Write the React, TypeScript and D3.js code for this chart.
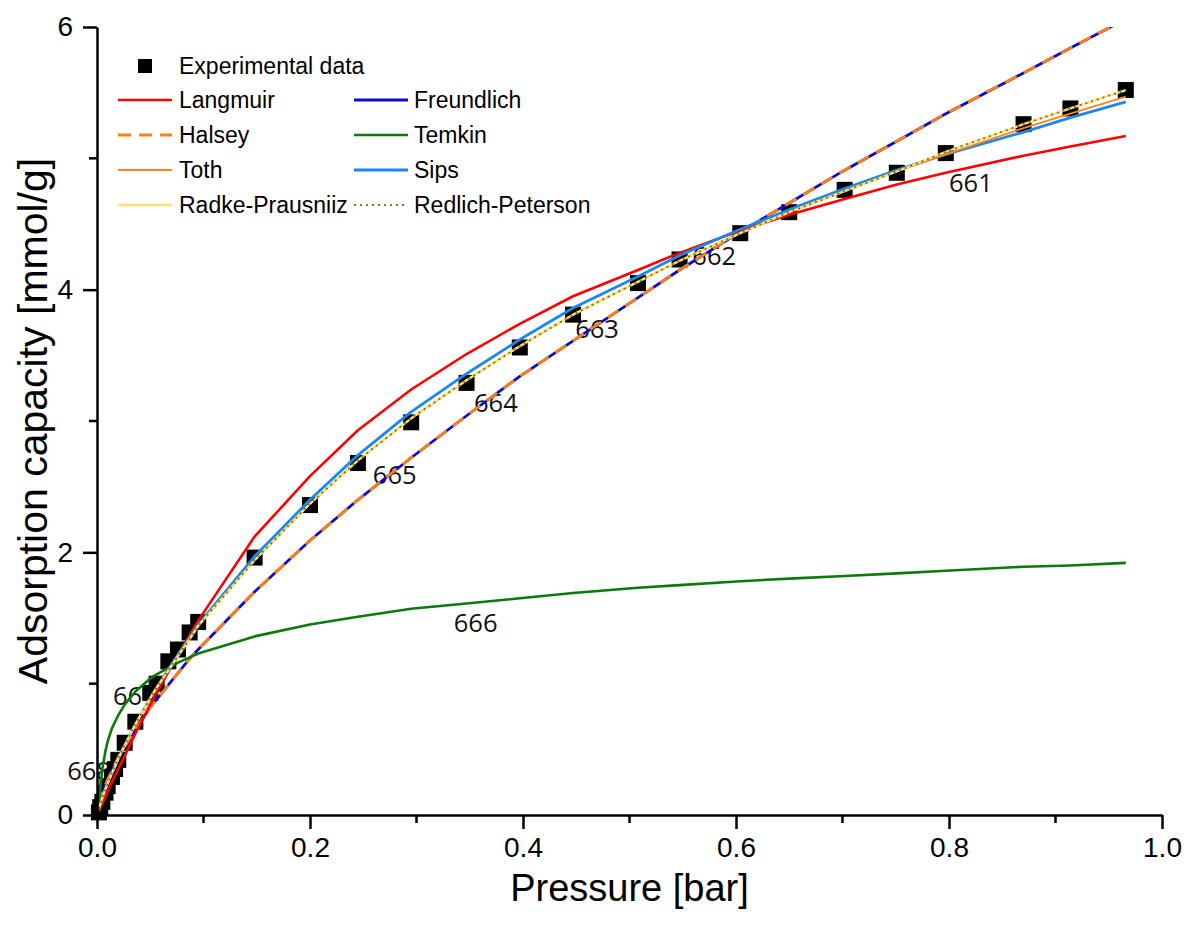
import React, { useRef, useEffect } from 'react';
import * as d3 from 'd3';

// pressure [bar] at which data and fits are given
const pressure = [0.0018, 0.003, 0.005, 0.008, 0.010, 0.014, 0.017, 0.020, 0.026, 0.036, 0.050, 0.056, 0.067, 0.076, 0.087, 0.095, 0.148, 0.200, 0.245, 0.295, 0.347, 0.397, 0.447, 0.508, 0.547, 0.604, 0.650, 0.702, 0.751, 0.797, 0.870, 0.914, 0.966];

const experimental = [0.02, 0.06, 0.10, 0.17, 0.22, 0.29, 0.35, 0.42, 0.55, 0.71, 0.93, 1.00, 1.17, 1.26, 1.39, 1.47, 1.96, 2.36, 2.68, 2.99, 3.29, 3.56, 3.81, 4.05, 4.23, 4.43, 4.59, 4.76, 4.89, 5.04, 5.26, 5.38, 5.52];

const langmuir = [0.03, 0.05, 0.09, 0.14, 0.18, 0.25, 0.30, 0.35, 0.45, 0.62, 0.84, 0.93, 1.09, 1.22, 1.37, 1.48, 2.12, 2.58, 2.93, 3.24, 3.51, 3.74, 3.95, 4.15, 4.28, 4.45, 4.57, 4.69, 4.80, 4.89, 5.02, 5.09, 5.17];
const freundlich = [0.08, 0.12, 0.17, 0.23, 0.27, 0.34, 0.39, 0.44, 0.52, 0.65, 0.82, 0.88, 0.99, 1.08, 1.19, 1.26, 1.70, 2.09, 2.40, 2.72, 3.04, 3.34, 3.61, 3.94, 4.15, 4.44, 4.66, 4.91, 5.13, 5.34, 5.65, 5.84, 6.06];
const halsey = [0.08, 0.12, 0.17, 0.23, 0.27, 0.34, 0.39, 0.44, 0.52, 0.65, 0.82, 0.88, 0.99, 1.08, 1.19, 1.26, 1.70, 2.09, 2.40, 2.72, 3.04, 3.34, 3.61, 3.94, 4.15, 4.44, 4.66, 4.91, 5.13, 5.34, 5.65, 5.84, 6.06];
const temkin = [0.04, 0.20, 0.35, 0.49, 0.56, 0.66, 0.71, 0.76, 0.84, 0.94, 1.04, 1.07, 1.12, 1.16, 1.20, 1.23, 1.36, 1.45, 1.51, 1.57, 1.61, 1.65, 1.69, 1.73, 1.75, 1.78, 1.80, 1.82, 1.84, 1.86, 1.89, 1.90, 1.92];
const toth = [0.05, 0.08, 0.13, 0.20, 0.24, 0.32, 0.37, 0.43, 0.53, 0.69, 0.89, 0.97, 1.10, 1.21, 1.34, 1.44, 1.94, 2.37, 2.70, 3.02, 3.31, 3.57, 3.81, 4.06, 4.22, 4.43, 4.59, 4.75, 4.90, 5.03, 5.23, 5.34, 5.47];
const sips = [0.05, 0.08, 0.13, 0.20, 0.24, 0.32, 0.37, 0.43, 0.53, 0.69, 0.89, 0.97, 1.11, 1.22, 1.35, 1.45, 1.97, 2.40, 2.74, 3.07, 3.36, 3.62, 3.86, 4.10, 4.26, 4.46, 4.61, 4.77, 4.91, 5.03, 5.20, 5.31, 5.43];
const radke = [0.05, 0.08, 0.13, 0.20, 0.24, 0.32, 0.37, 0.43, 0.53, 0.69, 0.89, 0.97, 1.10, 1.21, 1.34, 1.44, 1.94, 2.37, 2.70, 3.02, 3.31, 3.57, 3.81, 4.06, 4.22, 4.43, 4.59, 4.75, 4.90, 5.05, 5.26, 5.38, 5.52];
const redlich = [0.05, 0.08, 0.13, 0.20, 0.24, 0.32, 0.37, 0.43, 0.53, 0.69, 0.89, 0.97, 1.10, 1.21, 1.34, 1.44, 1.94, 2.37, 2.70, 3.02, 3.31, 3.57, 3.81, 4.06, 4.22, 4.43, 4.59, 4.75, 4.90, 5.05, 5.26, 5.38, 5.52];

// loose number labels in the plot (data coords of text start / baseline)
const noteText = ['661', '662', '663', '664', '665', '666', '667', '668'];
const noteP = [0.800, 0.559, 0.449, 0.354, 0.259, 0.335, 0.015, -0.028];
const noteQ = [4.74, 4.19, 3.63, 3.07, 2.52, 1.39, 0.84, 0.27];

const xTicks = [0, 0.2, 0.4, 0.6, 0.8, 1.0];
const xMinor = [0.1, 0.3, 0.5, 0.7, 0.9];
const yTicks = [0, 2, 4, 6];
const yMinor = [1, 3, 5];

type Series = { name: string; values: number[]; color: string; width: number; dash?: string };

const series: Series[] = [
  { name: 'Freundlich', values: freundlich, color: '#0a0ad0', width: 2.8 },
  { name: 'Halsey', values: halsey, color: '#ff7f10', width: 2.8, dash: '13,8' },
  { name: 'Langmuir', values: langmuir, color: '#ff0000', width: 2.6 },
  { name: 'Temkin', values: temkin, color: '#0a7a0a', width: 2.6 },
  { name: 'Sips', values: sips, color: '#1a88f0', width: 2.8 },
  { name: 'Toth', values: toth, color: '#ff8420', width: 1.9 },
  { name: 'Radke-Prausniiz', values: radke, color: '#ffe070', width: 2.3 },
  { name: 'Redlich-Peterson', values: redlich, color: '#7a7a10', width: 1.9, dash: '2,4' },
];

const legendLeft = ['Langmuir', 'Halsey', 'Toth', 'Radke-Prausniiz'];
const legendRight = ['Freundlich', 'Temkin', 'Sips', 'Redlich-Peterson'];

const W = 1186;
const H = 933;
const FONT = '"Liberation Sans", Arial, sans-serif';

const Chart = () => {
  const svgRef = useRef<SVGSVGElement>(null);

  useEffect(() => {
    const svg = d3.select(svgRef.current);
    svg.selectAll('*').remove();

    const x = d3.scaleLinear().domain([0, 1]).range([97, 1162]);
    const y = d3.scaleLinear().domain([0, 6]).range([815, 27]);

    svg.append('clipPath').attr('id', 'plotclip')
      .append('rect')
      .attr('x', x(0)).attr('y', y(6))
      .attr('width', x(1) - x(0)).attr('height', y(0) - y(6));

    // number labels sit underneath everything else
    const notes = svg.append('g');
    noteText.forEach((t, i) => {
      notes.append('text')
        .attr('x', x(noteP[i])).attr('y', y(noteQ[i]))
        .attr('font-family', '"Open Sans", sans-serif')
        .attr('font-size', 25.5)
        .attr('fill', '#111')
        .text(t);
    });

    // experimental squares
    svg.append('g').selectAll('rect')
      .data(pressure)
      .enter().append('rect')
      .attr('x', (d) => x(d) - 8)
      .attr('y', (d, i) => y(experimental[i]) - 8)
      .attr('width', 16).attr('height', 16)
      .attr('fill', '#000');

    const line = d3.line<number>()
      .x((d, i) => x(pressure[i]))
      .y((d) => y(d));

    const curves = svg.append('g').attr('clip-path', 'url(#plotclip)');
    series.forEach((s) => {
      curves.append('path')
        .attr('d', line(s.values))
        .attr('fill', 'none')
        .attr('stroke', s.color)
        .attr('stroke-width', s.width)
        .attr('stroke-dasharray', s.dash || null)
        .attr('stroke-linejoin', 'round');
    });

    // axes
    const xAxis = d3.axisBottom(x).tickValues(xTicks).tickSize(14).tickSizeOuter(0)
      .tickPadding(8).tickFormat(d3.format('.1f'));
    const gx = svg.append('g').attr('transform', `translate(0, ${y(0)})`).call(xAxis);
    gx.selectAll('text').attr('font-size', 28).attr('font-family', FONT).attr('fill', '#000');
    gx.append('g').selectAll('line').data(xMinor).enter().append('line')
      .attr('x1', (d) => x(d)).attr('x2', (d) => x(d)).attr('y1', 0).attr('y2', 8);

    const yAxis = d3.axisLeft(y).tickValues(yTicks).tickSize(14).tickSizeOuter(0)
      .tickPadding(10).tickFormat(d3.format('d'));
    const gy = svg.append('g').attr('transform', `translate(${x(0)}, 0)`).call(yAxis);
    gy.selectAll('text').attr('font-size', 28).attr('font-family', FONT).attr('fill', '#000');
    gy.append('g').selectAll('line').data(yMinor).enter().append('line')
      .attr('x1', 0).attr('x2', -8).attr('y1', (d) => y(d)).attr('y2', (d) => y(d));

    [gx, gy].forEach((g) => {
      g.selectAll('line').attr('stroke', '#000').attr('stroke-width', 2.5);
      g.select('.domain').attr('stroke', '#000').attr('stroke-width', 2.5);
    });

    svg.append('text')
      .attr('x', (x(0) + x(1)) / 2).attr('y', 901)
      .attr('text-anchor', 'middle')
      .attr('font-family', FONT).attr('font-size', 38)
      .text('Pressure [bar]');

    svg.append('text')
      .attr('transform', `translate(47, ${(y(0) + y(6)) / 2}) rotate(-90)`)
      .attr('text-anchor', 'middle')
      .attr('font-family', FONT).attr('font-size', 41)
      .text('Adsorption capacity [mmol/g]');

    // legend
    const lg = svg.append('g').attr('font-family', FONT).attr('font-size', 23);
    lg.append('rect').attr('x', 138).attr('y', 59).attr('width', 14).attr('height', 14).attr('fill', '#000');
    lg.append('text').attr('x', 179).attr('y', 74).text('Experimental data');

    const addEntry = (name: string, lx: number, tx: number, row: number) => {
      const s = series.find((d) => d.name === name)!;
      const ly = 100 + row * 35;
      lg.append('line')
        .attr('x1', lx).attr('x2', lx + 54).attr('y1', ly).attr('y2', ly)
        .attr('stroke', s.color).attr('stroke-width', s.width)
        .attr('stroke-dasharray', s.dash || null);
      lg.append('text').attr('x', tx).attr('y', ly + 8).text(name);
    };
    legendLeft.forEach((n, i) => addEntry(n, 118, 179, i));
    legendRight.forEach((n, i) => addEntry(n, 354, 414, i));
  }, []);

  return <svg ref={svgRef} width={W} height={H} style={{ position: 'absolute', left: 0, top: 0, background: '#fff' }} />;
};

export default function App() {
  return <Chart />;
}
